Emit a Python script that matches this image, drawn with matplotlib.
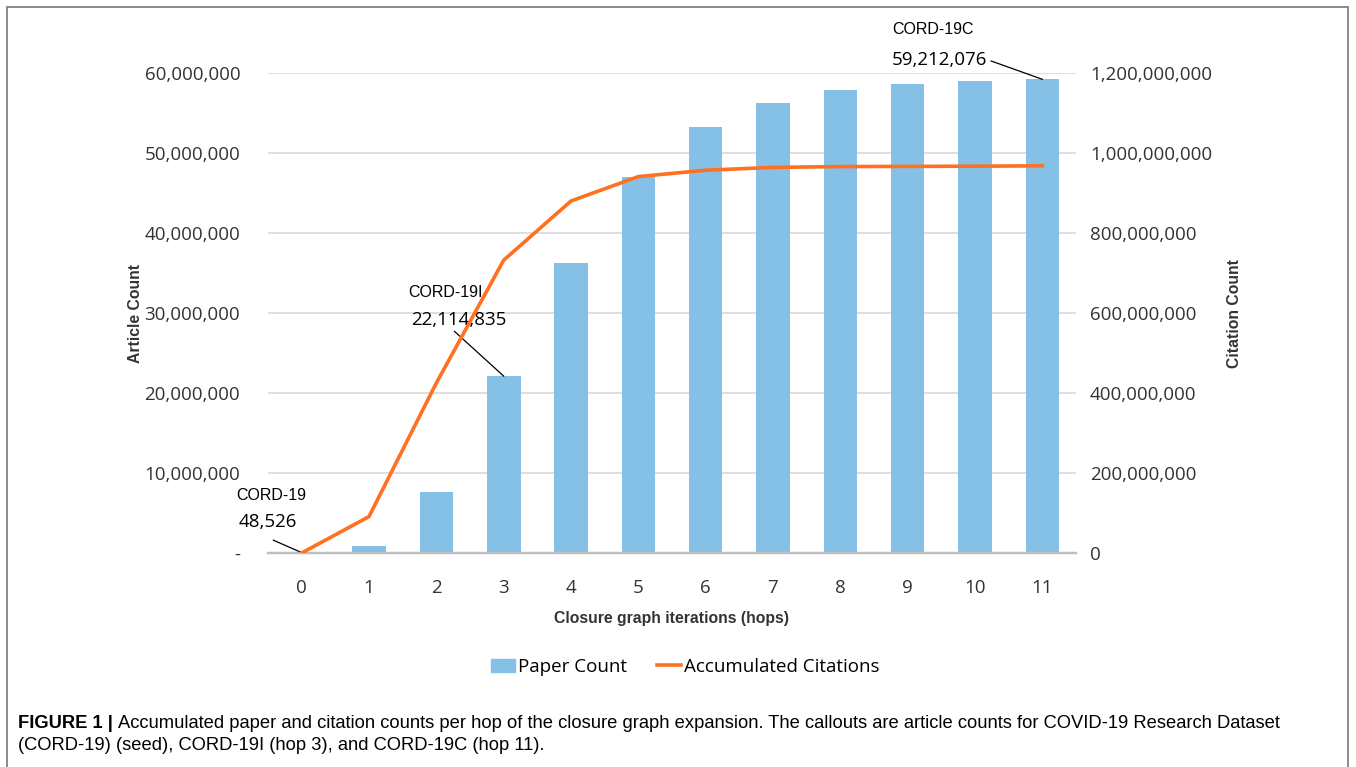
import matplotlib.pyplot as plt
import numpy as np
from matplotlib.patches import Rectangle
from matplotlib.ticker import FuncFormatter, FixedLocator

# hop index, article counts and accumulated citations per hop
HOPS = list(range(12))
PAPER_COUNT = [48526, 870000, 7660000, 22114835, 36200000, 47000000,
               53300000, 56300000, 57900000, 58600000, 59000000, 59212076]
CITATIONS = [0, 91000000, 425000000, 732000000, 880000000, 941000000,
             957000000, 964000000, 966000000, 966500000, 967000000, 968000000]

CALLOUT_HOPS = [0, 3, 11]
CALLOUT_NAMES = ['CORD-19', 'CORD-19I', 'CORD-19C']

BAR_COLOR = '#85C1E6'
LINE_COLOR = '#FF7020'
TICK_FONT = ['Open Sans', 'DejaVu Sans']
LABEL_FONT = ['Liberation Sans', 'DejaVu Sans']
NUM_SIZE = 13.5

W, H = 1356, 767
fig = plt.figure(figsize=(W / 100, H / 100), dpi=100)


def fx(px):
    return px / W


def fy(py):
    return 1 - py / H


ax = fig.add_axes([fx(268), fy(553), fx(1076) - fx(268), fy(73) - fy(553)])
ax2 = ax.twinx()

ax.bar(HOPS, PAPER_COUNT, width=0.5, color=BAR_COLOR, zorder=2)
ax2.plot(HOPS, CITATIONS, color=LINE_COLOR, lw=2.6, zorder=3)

ax.set_xlim(-0.5, 11.5)
ax.set_ylim(0, 60e6)
ax2.set_ylim(0, 1.2e9)
ax.yaxis.set_major_locator(FixedLocator(np.arange(0, 60e6 + 1, 10e6)))
ax2.yaxis.set_major_locator(FixedLocator(np.arange(0, 1.2e9 + 1, 2e8)))
ax.yaxis.set_major_formatter(FuncFormatter(lambda v, p: '-' if v == 0 else f'{v:,.0f}'))
ax2.yaxis.set_major_formatter(FuncFormatter(lambda v, p: f'{v:,.0f}'))
ax.set_xticks(HOPS)

ax.grid(axis='y', color='#D9D9D9', lw=1.2, zorder=0)
ax.set_axisbelow(True)
for a in (ax, ax2):
    for s in ('top', 'left', 'right'):
        a.spines[s].set_visible(False)
    a.spines['bottom'].set_color('#BFBFBF')
    a.spines['bottom'].set_linewidth(1.6)
    a.tick_params(length=0, labelsize=NUM_SIZE, colors='#333333')
    for lab in a.get_xticklabels() + a.get_yticklabels():
        lab.set_family(TICK_FONT)
ax.tick_params(axis='y', pad=20)
ax.tick_params(axis='x', pad=19)
ax2.tick_params(axis='y', pad=10)

ax.set_ylabel('Article Count', family=LABEL_FONT, fontsize=11.3,
              fontweight='bold', color='#333333')
ax2.set_ylabel('Citation Count', family=LABEL_FONT, fontsize=11.3,
               fontweight='bold', color='#333333')
ax.set_xlabel('Closure graph iterations (hops)', family=LABEL_FONT,
              fontsize=11.3, fontweight='bold', color='#333333')
ax.yaxis.set_label_coords(-0.155, 0.5)
ax2.yaxis.set_label_coords(1.187, 0.5)
ax.xaxis.set_label_coords(0.5, -0.121)

# callouts: name above value, leader line down to the top of the bar
name_xy = [(-0.45, 7.25e6), (2.13, 32.6e6), (9.38, 65.5e6)]
value_xy = [(-0.5, 3.9e6), (2.33, 29.1e6), (9.47, 61.6e6)]
leader_start = [(-0.42, 1.6e6), (2.27, 27.7e6), (10.24, 61.5e6)]
for hop, name, nxy, vxy, lxy in zip(CALLOUT_HOPS, CALLOUT_NAMES,
                                     name_xy, value_xy, leader_start):
    val = PAPER_COUNT[hop]
    ax.text(*nxy, name, family=LABEL_FONT, fontsize=11.5, ha='center',
            va='center', clip_on=False)
    ax.text(*vxy, f'{val:,}', family=TICK_FONT, fontsize=NUM_SIZE,
            ha='center', va='center', clip_on=False)
    ax.plot([lxy[0], hop], [lxy[1], val], color='black', lw=0.9,
            clip_on=False, zorder=4)

handles = [Rectangle((0, 0), 1, 1, color=BAR_COLOR),
           plt.Line2D([], [], color=LINE_COLOR, lw=2.6)]
fig.legend(handles, ['Paper Count', 'Accumulated Citations'],
           loc='center', bbox_to_anchor=(fx(685), fy(667)), ncol=2,
           frameon=False, prop={'family': TICK_FONT, 'size': NUM_SIZE},
           handlelength=1.3, handletextpad=0.15, columnspacing=1.6)

# figure frame, open at the bottom
fig.add_artist(Rectangle((fx(7), -0.05), fx(1348) - fx(7), fy(7) + 0.05,
                         transform=fig.transFigure, fill=False,
                         edgecolor='#777777', lw=1.2))

# caption: bold lead-in followed by the regular text
cap_size = 13.2
lead = fig.text(fx(18), fy(723), 'FIGURE 1 |', family=LABEL_FONT,
                fontsize=cap_size, fontweight='bold', va='center')
renderer = fig.canvas.get_renderer()
lead_box = lead.get_window_extent(renderer)
fig.text(lead_box.x1 / W + 0.004, fy(723),
         'Accumulated paper and citation counts per hop of the closure graph expansion. '
         'The callouts are article counts for COVID-19 Research Dataset',
         family=LABEL_FONT, fontsize=cap_size, va='center')
fig.text(fx(18), fy(745),
         '(CORD-19) (seed), CORD-19I (hop 3), and CORD-19C (hop 11).',
         family=LABEL_FONT, fontsize=cap_size, va='center')

fig.savefig('out.png', dpi=100)
